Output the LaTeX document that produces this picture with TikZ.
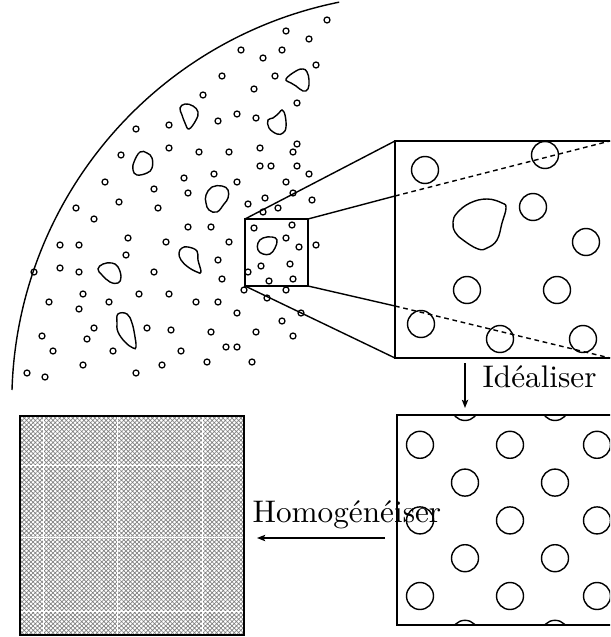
\documentclass[tikz,border=0pt]{standalone}
\usetikzlibrary{patterns.meta,arrows.meta}
\begin{document}
\begin{tikzpicture}[x=0.32pt,y=-0.32pt,
  line width=0.4pt,
  pore/.style={draw,line width=0.4pt},
  bigpore/.style={draw,line width=0.45pt},
  frame/.style={draw,line width=0.45pt},
  cone/.style={draw,line width=0.45pt},
  conedash/.style={draw,line width=0.45pt,dash pattern=on 1.5pt off 1.2pt},
  blob/.style={draw,line width=0.45pt},
  stepar/.style={draw,line width=0.45pt,-{Stealth[length=2.6pt,width=2pt,inset=0.5pt]}},
  lbl/.style={inner sep=0pt,anchor=base west,font=\fontsize{10}{12}\selectfont}]
\useasboundingbox (0,0) rectangle (610,637);
\clip (0,0) rectangle (610,637);

% ---------- big arc (section of the structure)
\draw[line width=0.45pt] (12,390) arc[start angle=181.7,end angle=258.6,radius=408];

% ---------- small pores
\foreach \x/\y in {327/20,286/31,309/39,241/50,263/58,282/50,316/65,222/76,275/76,254/89,
  203/95,297/103,136/129,169/125,218/121,237/114,256/118,121/155,169/148,199/152,229/152,
  260/148,297/144,293/152,260/166,271/166,297/166,309/174,105/182,184/178,214/174,237/182,
  286/182,154/189,188/193,293/193,265/198,312/200,248/204,263/212,278/208,76/208,119/202,
  158/208,94/219,254/228,292/225,188/227,211/227,128/238,166/242,229/242,286/238,299/247,
  316/245,60/245,79/245,126/255,218/260,261/266,290/264,34/272,60/268,79/272,154/272,
  248/272,222/279,269/281,293/279,244/290,286/290,83/294,139/294,169/294,49/302,109/302,
  196/302,218/302,267/298,79/309,237/313,301/313,282/321,42/336,94/328,147/328,171/330,
  211/332,256/332,293/336,87/339,53/351,113/351,181/351,226/347,237/347,207/362,252/362,
  83/365,162/365,27/373,45/377,136/373}
  \draw[pore] (\x,\y) circle[radius=3];

% ---------- irregular voids
\draw[blob] plot[smooth cycle,tension=0.7] coordinates {(286,79) (296,71) (303,69) (307,72) (309,80) (308,89) (303,91) (296,86) (291,83)};
\draw[blob] plot[smooth cycle,tension=0.7] coordinates {(180,108) (185,104) (193,106) (198,112) (196,120) (189,129) (185,123) (182,115)};
\draw[blob] plot[smooth cycle,tension=0.7] coordinates {(282,110) (285,115) (286,127) (283,133) (277,134) (269,128) (268,120) (273,118) (279,113)};
\draw[blob] plot[smooth cycle,tension=0.7] coordinates {(140,152) (147,153) (152,158) (152,168) (147,173) (137,175) (133,170) (134,162)};
\draw[blob] plot[smooth cycle,tension=0.7] coordinates {(212,187) (222,186) (228,190) (228,198) (224,204) (217,212) (209,210) (206,203) (206,195)};
\draw[blob] plot[smooth cycle,tension=0.7] coordinates {(182,248) (188,247) (197,251) (198,260) (201,272) (197,272) (188,267) (181,260) (179,253)};
\draw[blob] plot[smooth cycle,tension=0.7] coordinates {(103,264) (112,263) (118,267) (121,277) (118,283) (110,282) (102,275) (98,269)};
\draw[blob] plot[smooth cycle,tension=0.7] coordinates {(118,314) (127,314) (132,323) (135,337) (136,347) (133,348) (125,342) (118,332) (117,323)};
\draw[blob] plot[smooth cycle,tension=0.7] coordinates {(258,243) (263,238) (272,237) (277,240) (275,248) (270,254) (263,254) (258,250)};

% ---------- zoom window and magnified box
\coordinate (sTL) at (245,219);
\coordinate (sTR) at (308,219);
\coordinate (sBL) at (245,286);
\coordinate (sBR) at (308,286);
\coordinate (bTL) at (395,141);
\coordinate (bBL) at (395,358);
\coordinate (bTR) at (615,141);
\coordinate (bBR) at (615,358);
\coordinate (mT) at (395,196);
\coordinate (mB) at (395,306);
\coordinate (dT) at (610,141);
\coordinate (dB) at (610,358);

\draw[frame] (sTL) rectangle (sBR);
\draw[cone] (sTL) -- (bTL);
\draw[cone] (sBL) -- (bBL);
\draw[cone] (sTR) -- (mT);
\draw[cone] (sBR) -- (mB);
\draw[frame] (bTR) -- (bTL) -- (bBL) -- (bBR);

\begin{scope}
\clip (bTL) rectangle (bBR);
\draw[conedash] (mT) -- (dT);
\draw[conedash] (mB) -- (dB);
\foreach \x/\y in {425/170,545/155,533/207,586/242,467/290,557/290,421/324,500/339,583/339}
  \draw[bigpore] (\x,\y) circle[radius=13.5];
\draw[blob] plot[smooth cycle,tension=0.7] coordinates {(457,213) (470,203) (487,199) (502,203) (506,208) (502,223) (497,240) (487,248) (478,249) (463,240) (455,232) (453,222)};
\end{scope}

% ---------- idealised periodic cell
\coordinate (iTL) at (397,415);
\coordinate (iBR) at (620,625);
\begin{scope}
\clip (iTL) rectangle (iBR);
\foreach \x in {465,555}{
  \foreach \y in {407,482.6,558.2,633.8}
    \draw[bigpore] (\x,\y) circle[radius=13.5];}
\foreach \x in {420,510,597}{
  \foreach \y in {444.8,520.4,596}
    \draw[bigpore] (\x,\y) circle[radius=13.5];}
\end{scope}
\draw[frame] (620,415) -- (iTL) -- (397,625) -- (620,625);

% ---------- homogenised cell
\coordinate (hTL) at (20,416);
\coordinate (hBR) at (244,635);
\fill[pattern={Hatch[angle=45,distance=1pt,line width=0.22pt]},pattern color=black!50] (hTL) rectangle (hBR);
\foreach \x in {43,117,202} \draw[white,line width=0.22pt] (\x,417) -- (\x,634);
\foreach \y in {465,537,611} \draw[white,line width=0.22pt] (21,\y) -- (243,\y);
\draw[frame] (hTL) rectangle (hBR);

% ---------- step arrows and labels
\coordinate (a1s) at (465,363);
\coordinate (a1e) at (465,408);
\draw[stepar] (a1s) -- (a1e);
\node[lbl] (lblI) at (482,387) {Idéaliser};

\coordinate (a2s) at (385,538);
\coordinate (a2e) at (257,538);
\draw[stepar] (a2s) -- (a2e);
\node[lbl] (lblH) at (252,522) {Homogénéiser};
\end{tikzpicture}
\end{document}
